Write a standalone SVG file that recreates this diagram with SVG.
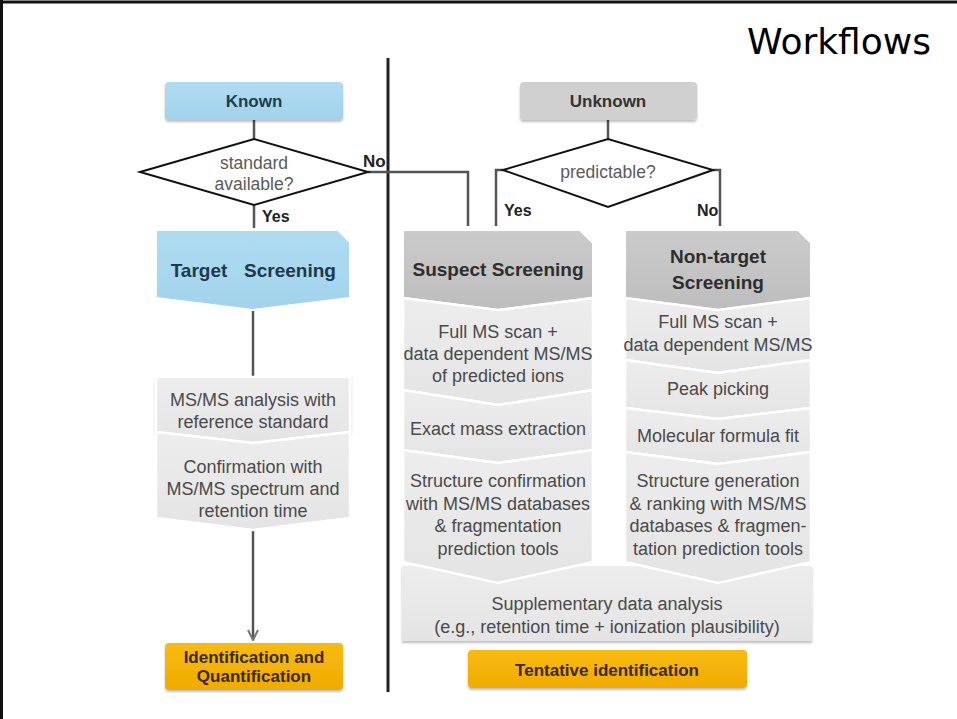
<svg xmlns="http://www.w3.org/2000/svg" width="957" height="719" viewBox="0 0 957 719">
<style>
text{font-family:"Liberation Sans",Arial,sans-serif;text-anchor:middle}
.step{fill:url(#gStep);stroke:#fff;stroke-width:2.5;stroke-linejoin:miter}
.stext{font-size:18px;fill:#4a4a4a}
.btitle{font-size:19px;font-weight:bold;fill:#2e2e2e}
.ttitle{font-size:19px;font-weight:bold;fill:#1c3a4c}
.lbl{font-size:16px;font-weight:bold;fill:#222;text-anchor:start}
.dtext{font-size:17.5px;fill:#5a5a5a}
.conn{fill:none;stroke:#555;stroke-width:2.5}
.orange{fill:url(#gOr)}
.otext{font-size:17px;font-weight:bold;fill:#3b2a00}
</style>
<defs>
<linearGradient id="gStep" x1="0" y1="0" x2="0" y2="1"><stop offset="0" stop-color="#ededed"/><stop offset="1" stop-color="#e4e4e4"/></linearGradient>
<linearGradient id="gGray" x1="0" y1="0" x2="0" y2="1"><stop offset="0" stop-color="#cbcbcb"/><stop offset="1" stop-color="#bdbdbd"/></linearGradient>
<linearGradient id="gBlue" x1="0" y1="0" x2="0" y2="1"><stop offset="0" stop-color="#afdcf1"/><stop offset="1" stop-color="#a2d3ec"/></linearGradient>
<linearGradient id="gOr" x1="0" y1="0" x2="0" y2="1"><stop offset="0" stop-color="#f8bb10"/><stop offset="1" stop-color="#f0ab00"/></linearGradient>
<filter id="sh" x="-5%" y="-5%" width="110%" height="120%"><feDropShadow dx="0" dy="2" stdDeviation="1.2" flood-color="#000" flood-opacity="0.25"/></filter>
<marker id="arr" viewBox="0 0 12 12" refX="11" refY="6" markerWidth="12" markerHeight="12" markerUnits="userSpaceOnUse" orient="auto"><path d="M1,1 L11,6 L1,11" fill="none" stroke="#777" stroke-width="2"/></marker>
</defs>

<!-- frame -->
<line x1="0" y1="2" x2="957" y2="2" stroke="#111" stroke-width="3"/>
<line x1="1.5" y1="0" x2="1.5" y2="719" stroke="#111" stroke-width="3"/>
<text x="931" y="54" style="font-family:'DejaVu Sans',Verdana,sans-serif;font-size:36px;text-anchor:end;fill:#000">Workflows</text>

<!-- divider -->
<line x1="388" y1="58" x2="388" y2="692" stroke="#222" stroke-width="3"/>

<g id="connectors">
<line class="conn" x1="254" y1="120" x2="254" y2="139"/>
<path class="conn" d="M368,172 H468 V226" stroke="#666"/>
<line class="conn" x1="254" y1="205" x2="254" y2="228"/>
<line class="conn" x1="253" y1="311" x2="253" y2="376"/>
<line class="conn" x1="253" y1="531" x2="253" y2="640" stroke="#777" marker-end="url(#arr)"/>
<line class="conn" x1="608" y1="120" x2="608" y2="139"/>
<path class="conn" d="M503,170 H496 V226"/>
<path class="conn" d="M713,170 H720 V226"/>
</g>

<g id="known">
<rect x="165" y="82" width="178" height="38" rx="4" fill="url(#gBlue)" filter="url(#sh)"/>
<text x="254" y="107" style="font-size:17px;font-weight:bold;fill:#1f3d50">Known</text>
</g>
<g id="standard-available">
<polygon points="140,172 254,139 368,172 254,205" fill="#fff" stroke="#111" stroke-width="2"/>
<text class="dtext" x="254" y="169">standard</text>
<text class="dtext" x="254" y="190">available?</text>
</g>
<text class="lbl" x="363" y="167" style="font-size:17px">No</text>
<text class="lbl" x="262" y="222">Yes</text>

<g id="target-screening">
<path d="M156,230 H338 L350,242 V298 L253,310 L156,298 Z" fill="url(#gBlue)" stroke="#fff" stroke-width="2"/>
<text class="ttitle" x="199" y="277">Target</text>
<text class="ttitle" x="290" y="277">Screening</text>
</g>
<g id="msms-analysis">
<path class="step" d="M156,377 H350 V432 L253,443 L156,432 Z" filter="url(#sh)"/>
<text class="stext" x="253" y="406">MS/MS analysis with</text>
<text class="stext" x="253" y="428">reference standard</text>
</g>
<g id="confirmation">
<path class="step" d="M156,432 L253,443 L350,432 V518 L253,530 L156,518 Z"/>
<text class="stext" x="253" y="473">Confirmation with</text>
<text class="stext" x="253" y="495">MS/MS spectrum and</text>
<text class="stext" x="253" y="517">retention time</text>
</g>
<g id="identification">
<rect x="165" y="643" width="178" height="47" rx="4" class="orange" filter="url(#sh)"/>
<text class="otext" x="254" y="663">Identification and</text>
<text class="otext" x="254" y="682">Quantification</text>
</g>

<g id="unknown">
<rect x="520" y="82" width="177" height="38" rx="4" fill="#d0d0d0" filter="url(#sh)"/>
<text x="608" y="107" style="font-size:17px;font-weight:bold;fill:#333">Unknown</text>
</g>
<g id="predictable">
<polygon points="503,170 608,139 713,170 608,207" fill="#fff" stroke="#111" stroke-width="2"/>
<text class="dtext" x="608" y="178">predictable?</text>
</g>
<text class="lbl" x="504" y="216">Yes</text>
<text class="lbl" x="697" y="216">No</text>

<g id="supplementary">
<rect x="402" y="566" width="410" height="75" fill="url(#gStep)" filter="url(#sh)"/>
<text class="stext" x="607" y="610">Supplementary data analysis</text>
<text class="stext" x="607" y="633">(e.g., retention time + ionization plausibility)</text>
</g>

<g id="suspect-screening">
<path d="M403,230 H580 L593,243 V298 L498,310 L403,298 Z" fill="url(#gGray)" stroke="#fff" stroke-width="2"/>
<text class="btitle" x="498" y="276">Suspect Screening</text>
</g>
<g id="suspect-full-ms">
<path class="step" d="M403,298 L498,310 L593,298 V390 L498,405 L403,390 Z"/>
<text class="stext" x="498" y="338">Full MS scan +</text>
<text class="stext" x="498" y="360">data dependent MS/MS</text>
<text class="stext" x="498" y="382">of predicted ions</text>
</g>
<g id="exact-mass">
<path class="step" d="M403,390 L498,405 L593,390 V450 L498,463 L403,450 Z"/>
<text class="stext" x="498" y="435">Exact mass extraction</text>
</g>
<g id="structure-confirmation">
<path class="step" d="M403,450 L498,463 L593,450 V562 L498,583 L403,562 Z"/>
<text class="stext" x="498" y="487">Structure confirmation</text>
<text class="stext" x="498" y="509.5">with MS/MS databases</text>
<text class="stext" x="498" y="532">&amp; fragmentation</text>
<text class="stext" x="498" y="554.5">prediction tools</text>
</g>

<g id="non-target-screening">
<path d="M625,230 H798 L811,243 V298 L718,310 L625,298 Z" fill="url(#gGray)" stroke="#fff" stroke-width="2"/>
<text class="btitle" x="718" y="263">Non-target</text>
<text class="btitle" x="718" y="289">Screening</text>
</g>
<g id="nontarget-full-ms">
<path class="step" d="M625,298 L718,310 L811,298 V360 L718,373 L625,360 Z"/>
<text class="stext" x="718" y="328">Full MS scan +</text>
<text class="stext" x="718" y="351">data dependent MS/MS</text>
</g>
<g id="peak-picking">
<path class="step" d="M625,360 L718,373 L811,360 V408 L718,419 L625,408 Z"/>
<text class="stext" x="718" y="395">Peak picking</text>
</g>
<g id="molecular-formula">
<path class="step" d="M625,408 L718,419 L811,408 V452 L718,464 L625,452 Z"/>
<text class="stext" x="718" y="442">Molecular formula fit</text>
</g>
<g id="structure-generation">
<path class="step" d="M625,452 L718,464 L811,452 V562 L718,583 L625,562 Z"/>
<text class="stext" x="718" y="487">Structure generation</text>
<text class="stext" x="718" y="509.5">&amp; ranking with MS/MS</text>
<text class="stext" x="718" y="532">databases &amp; fragmen-</text>
<text class="stext" x="718" y="554.5">tation prediction tools</text>
</g>

<g id="tentative">
<rect x="468" y="650" width="279" height="38" rx="4" class="orange" filter="url(#sh)"/>
<text class="otext" x="607" y="676">Tentative identification</text>
</g>
</svg>
